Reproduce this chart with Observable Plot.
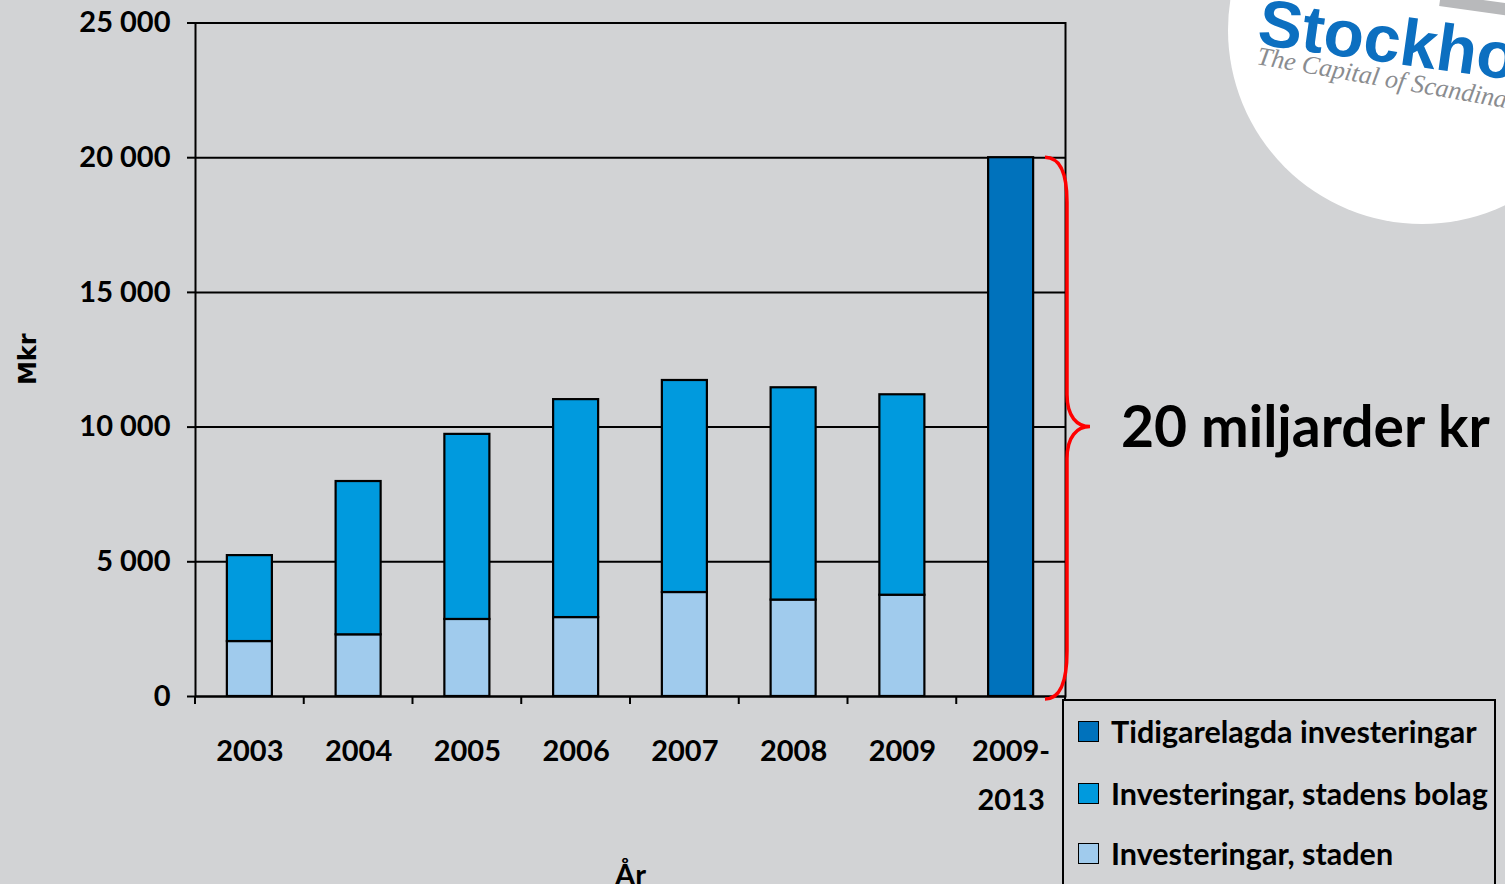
<!DOCTYPE html>
<html><head><meta charset="utf-8">
<script src="https://cdn.jsdelivr.net/npm/d3@7"></script>
<script src="https://cdn.jsdelivr.net/npm/@observablehq/plot@0.6"></script>
<style>
html,body{margin:0;padding:0;background:#d2d3d5;width:1505px;height:888px;overflow:hidden;font-family:Lato,sans-serif;}
#wrap{position:relative;width:1505px;height:888px;overflow:hidden;}
#legend{position:absolute;left:1062px;top:699px;width:434px;height:220px;border:2px solid #000;box-sizing:border-box;background:#d2d3d5;}
.row{position:absolute;left:14px;display:flex;align-items:center;font-weight:bold;font-size:30.5px;color:#000;white-space:nowrap;}
.sw{width:19px;height:19px;border:1.5px solid #000;margin-right:12px;}
#strip{position:absolute;left:0;top:884px;width:1505px;height:10px;background:#fff;}
#logo{position:absolute;left:0;top:0;}
</style></head><body><div id="wrap"></div>
<script>
const years = ["2003","2004","2005","2006","2007","2008","2009","2009-2013"];
const staden = [2040, 2290, 2860, 2930, 3860, 3580, 3760, 0];
const bolag = [3190, 5690, 6870, 8090, 7870, 7880, 7440, 0];
const tidigare = [0, 0, 0, 0, 0, 0, 0, 20000];
const seriesNames = ["Tidigarelagda investeringar", "Investeringar, stadens bolag", "Investeringar, staden"];
const seriesColors = ["#0072bc", "#009ade", "#a0cbed"];
const yTicks = [0, 5000, 10000, 15000, 20000, 25000];
const braceLabel = "20 miljarder kr";
const yLabel = "Mkr";
const xLabel = "År";

const table = [];
years.forEach((yr, i) => {
  table.push({year: yr, series: seriesNames[2], value: staden[i]});
  table.push({year: yr, series: seriesNames[1], value: bolag[i]});
  table.push({year: yr, series: seriesNames[0], value: tidigare[i]});
});
const rows = table.filter(d => d.value > 0);

function overlay(index, scales, values, dims) {
  const g = d3.create("svg:g");
  const n = years.length;
  const x0 = dims.marginLeft, x1 = dims.width - dims.marginRight;
  const cell = (x1 - x0) / n;
  const yb = scales.y(0);
  for (let i = 0; i <= n; i++) {
    g.append("line").attr("x1", x0 + i * cell).attr("x2", x0 + i * cell)
      .attr("y1", yb).attr("y2", yb + 8).attr("stroke", "#000").attr("stroke-width", 2);
  }
  const top = d3.max(tidigare);
  const yT = scales.y(top), yM = scales.y(top / 2), yB = scales.y(0);
  const xa = x1 - 20, xv = x1 + 2, xp = x1 + 25;
  const p = `M${xa},${yT} C${xa+15},${yT} ${xv},${yT+15} ${xv},${yT+45} L${xv},${yM-32} C${xv},${yM-10} ${xv+10},${yM} ${xp},${yM} C${xv+10},${yM} ${xv},${yM+10} ${xv},${yM+32} L${xv},${yB-45} C${xv},${yB-15} ${xa+15},${yB+3} ${xa},${yB+3}`;
  g.append("path").attr("d", p).attr("fill", "none").attr("stroke", "#ff0000").attr("stroke-width", 3.5);
  g.append("text").attr("x", x1 + 56).attr("y", yM).attr("dy", "0.36em").attr("text-anchor", "start")
    .attr("font-size", 57).attr("font-weight", "bold").attr("fill", "#000").text(braceLabel);
  g.append("text").attr("transform", `translate(27,${(dims.marginTop + yb) / 2}) rotate(-90)`)
    .attr("text-anchor", "middle").attr("dy", "0.36em")
    .attr("font-family", "DejaVu Sans").attr("font-size", 24).attr("font-weight", "bold").text(yLabel);
  return g.node();
}

const fmt = d => d3.format(",")(d).replace(/,/g, " ");

const chart = Plot.plot({
  width: 1505, height: 888,
  marginLeft: 195, marginRight: 440, marginTop: 22.5, marginBottom: 192,
  style: {background: "#d2d3d5", fontFamily: "Lato, sans-serif", fontWeight: "bold", color: "#000", overflow: "visible"},
  x: {type: "band", domain: years, paddingInner: 0.586, paddingOuter: 0.293, round: false},
  y: {domain: [0, 25000]},
  color: {domain: seriesNames, range: seriesColors},
  marks: [
    Plot.gridY(yTicks, {stroke: "#000", strokeOpacity: 1, strokeWidth: 2}),
    Plot.barY(rows, {x: "year", y: "value", fill: "series", stroke: "#000", strokeWidth: 2.2}),
    Plot.frame({stroke: "#000", strokeWidth: 2}),
    Plot.axisY({ticks: yTicks, tickSize: 8, tickPadding: 17, fontSize: 29, tickFormat: fmt, label: null, stroke: "#000", strokeWidth: 2}),
    Plot.axisX({tickSize: 0, tickPadding: 30, fontSize: 29, lineHeight: 1.69,
      tickFormat: d => d === "2009-2013" ? "2009-\n2013" : d,
      label: xLabel, labelAnchor: "center", labelOffset: 188, labelArrow: false}),
    overlay
  ]
});
const wrap = document.getElementById("wrap");
wrap.appendChild(chart);

// logo
const logo = d3.select(wrap).append("svg").attr("id", "logo").attr("width", 1505).attr("height", 888);
logo.append("circle").attr("cx", 1422).attr("cy", 30).attr("r", 194).attr("fill", "#fff");
logo.append("rect").attr("x", 1440).attr("y", -6).attr("width", 70).attr("height", 12).attr("fill", "#b8b9bb").attr("transform", "rotate(8,1440,0)");
logo.append("text").attr("x", 1256).attr("y", 44).attr("transform", "rotate(8,1256,44)")
  .attr("font-family", "Liberation Sans, Arial, sans-serif").attr("font-weight", "bold").attr("font-size", 66)
  .attr("fill", "#0c6fc0").text("Stockholm");
logo.append("text").attr("x", 1256).attr("y", 64).attr("transform", "rotate(10,1256,64)")
  .attr("font-family", "Liberation Serif, serif").attr("font-style", "italic").attr("font-size", 26)
  .attr("fill", "#8a8c8f").text("The Capital of Scandinavia");

// legend
const leg = d3.select(wrap).append("div").attr("id", "legend");
const legTops = [12, 74, 134];
seriesNames.forEach((s, i) => {
  const r = leg.append("div").attr("class", "row").style("top", legTops[i] + "px");
  r.append("div").attr("class", "sw").style("background", seriesColors[i]);
  r.append("span").text(s);
});
d3.select(wrap).append("div").attr("id", "strip");
</script>
</body></html>
